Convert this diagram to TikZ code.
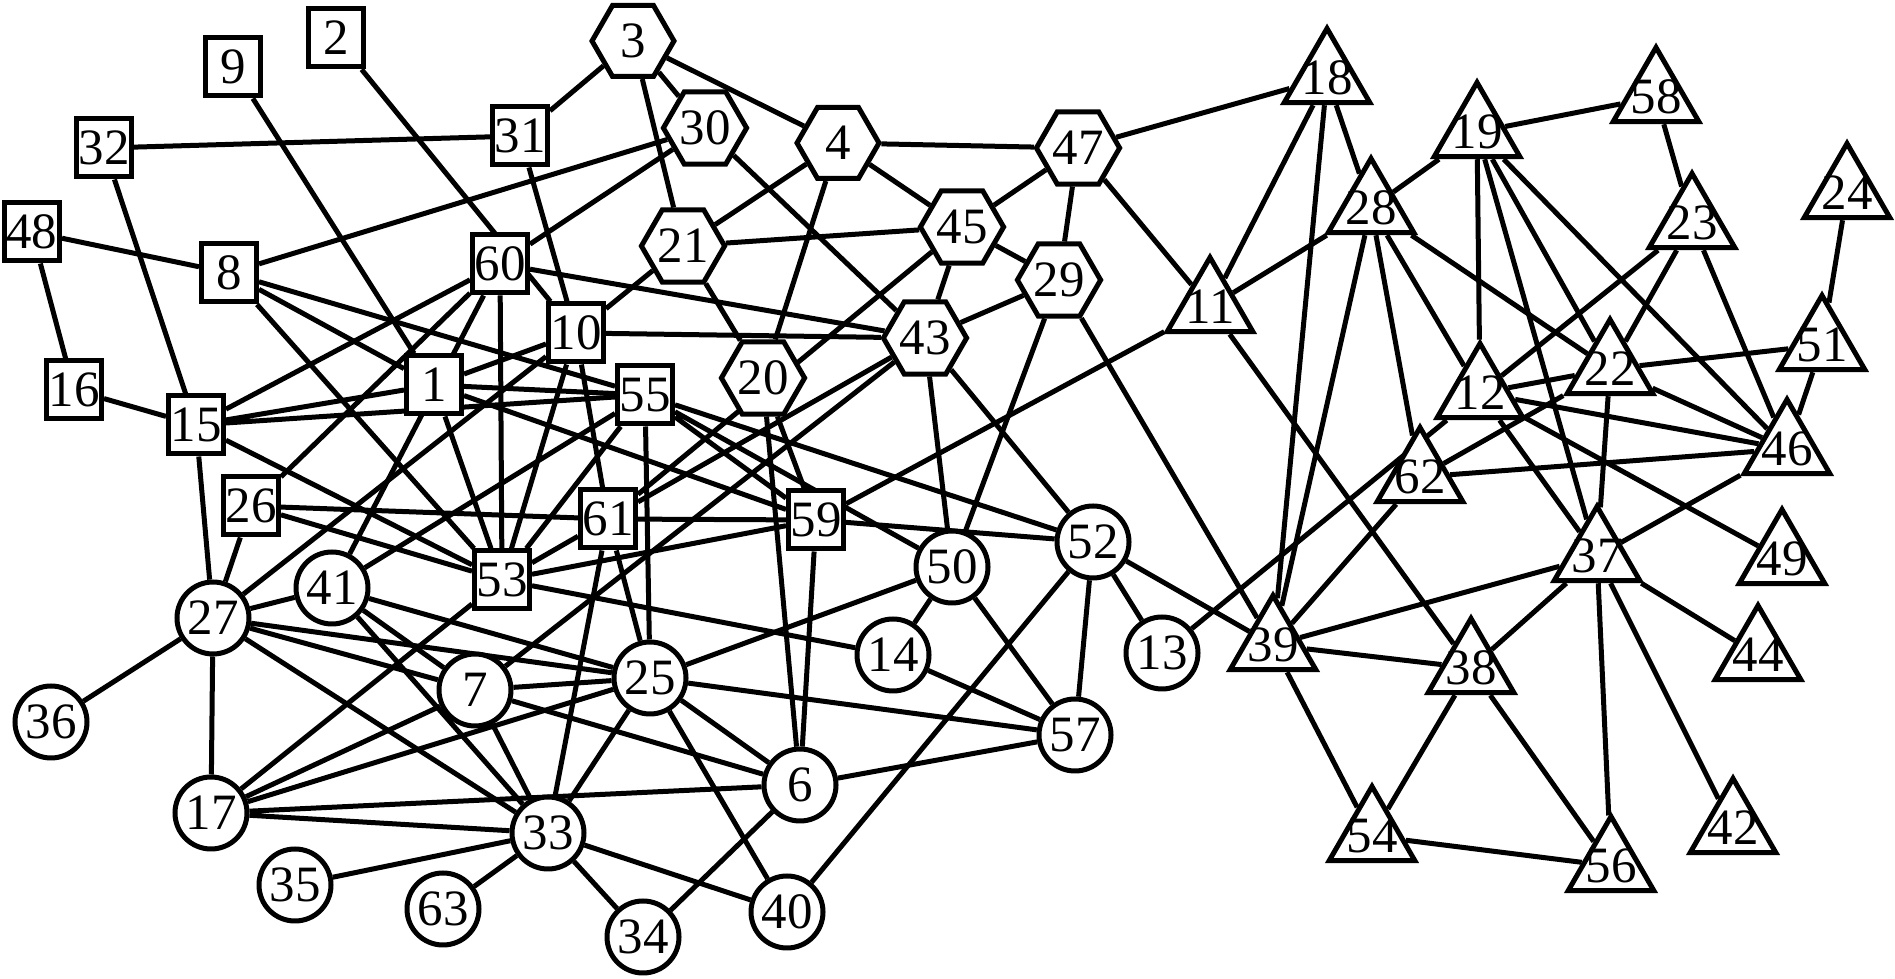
\documentclass[tikz,border=0pt]{standalone}
\usepackage{fontspec}
\setmainfont{Liberation Serif}
\usetikzlibrary{shapes.geometric,backgrounds}

\begin{document}
\begin{tikzpicture}[x = 0.1mm, y = -0.1mm, line width = 0.5mm,
                        font = \fontsize{14.5}{16}\selectfont,
                        every on background layer/.style = {line width = 0.5mm},
                        sq/.style = {rectangle, draw, fill = white, inner sep = 0pt, minimum width = 5.5mm, minimum height = 5.8mm},
                        rnd/.style = {circle, draw, fill = white, inner sep = 0pt, minimum size = 7.2mm},
                        hex/.style = {regular polygon, regular polygon sides = 6, draw, fill = white, inner sep = 0pt, minimum size = 8.2mm},
                        tri/.style = {regular polygon, regular polygon sides = 3, draw, fill = white, inner sep = 0pt, minimum size = 9.9mm, label = {center:#1}}]
      \useasboundingbox (0, 0) rectangle (1895, 979);

      % squares
      \node [sq] (n9) at (233, 67){9};
      \node [sq] (n2) at (336, 38){2};
      \node [sq] (n32) at (104, 148){32};
      \node [sq] (n31) at (520, 136){31};
      \node [sq] (n48) at (32, 232){48};
      \node [sq] (n8) at (229, 273){8};
      \node [sq] (n60) at (500, 264){60};
      \node [sq] (n10) at (576, 333){10};
      \node [sq] (n16) at (74, 390){16};
      \node [sq] (n15) at (196, 425){15};
      \node [sq] (n1) at (434, 385){1};
      \node [sq] (n55) at (645, 395){55};
      \node [sq] (n26) at (251, 506){26};
      \node [sq] (n61) at (608, 519){61};
      \node [sq] (n59) at (816, 520){59};
      \node [sq] (n53) at (502, 580){53};

      % hexagons
      \node [hex] (n3) at (633, 41){3};
      \node [hex] (n30) at (705, 128){30};
      \node [hex] (n4) at (838, 143){4};
      \node [hex] (n47) at (1078, 148){47};
      \node [hex] (n21) at (683, 246){21};
      \node [hex] (n45) at (962, 227){45};
      \node [hex] (n29) at (1059, 280){29};
      \node [hex] (n43) at (925, 338){43};
      \node [hex] (n20) at (763, 378){20};

      % circles
      \node [rnd] (n41) at (332, 588){41};
      \node [rnd] (n27) at (213, 618){27};
      \node [rnd] (n7) at (475, 690){7};
      \node [rnd] (n36) at (51, 722){36};
      \node [rnd] (n17) at (211, 813){17};
      \node [rnd] (n35) at (295, 885){35};
      \node [rnd] (n63) at (443, 909){63};
      \node [rnd] (n25) at (650, 678){25};
      \node [rnd] (n14) at (893, 655){14};
      \node [rnd] (n6) at (800, 785){6};
      \node [rnd] (n33) at (548, 833){33};
      \node [rnd] (n34) at (643, 937){34};
      \node [rnd] (n40) at (787, 912){40};
      \node [rnd] (n57) at (1075, 735){57};
      \node [rnd] (n52) at (1093, 542){52};
      \node [rnd] (n50) at (952, 567){50};
      \node [rnd] (n13) at (1162, 653){13};

      % triangles
      \node [tri = 18] (n18) at (1327, 78){};
      \node [tri = 11] (n11) at (1210, 307){};
      \node [tri = 28] (n28) at (1371, 208){};
      \node [tri = 19] (n19) at (1477, 132){};
      \node [tri = 58] (n58) at (1656, 97){};
      \node [tri = 23] (n23) at (1692, 223){};
      \node [tri = 24] (n24) at (1847, 193){};
      \node [tri = 51] (n51) at (1822, 345){};
      \node [tri = 12] (n12) at (1480, 393){};
      \node [tri = 22] (n22) at (1610, 369){};
      \node [tri = 46] (n46) at (1787, 449){};
      \node [tri = 62] (n62) at (1420, 477){};
      \node [tri = 37] (n37) at (1597, 556){};
      \node [tri = 49] (n49) at (1782, 559){};
      \node [tri = 44] (n44) at (1758, 655){};
      \node [tri = 39] (n39) at (1273, 645){};
      \node [tri = 38] (n38) at (1471, 668){};
      \node [tri = 54] (n54) at (1372, 836){};
      \node [tri = 56] (n56) at (1611, 866){};
      \node [tri = 42] (n42) at (1733, 828){};

      \begin{scope}[on background layer]
      \draw (n3) -- (n31) (n3) -- (n30) (n3) -- (n21) (n3) -- (n4);
      \draw (n31) -- (n32) (n31) -- (n10);
      \draw (n30) -- (n8) (n30) -- (n60) (n30) -- (n43);
      \draw (n4) -- (n47) (n4) -- (n21) (n4) -- (n45) (n4) -- (n20);
      \draw (n21) -- (n45) (n21) -- (n10) (n21) -- (n20);
      \draw (n47) -- (n45) (n47) -- (n29) (n47) -- (n11) (n47) -- (n18);
      \draw (n45) -- (n29) (n45) -- (n43) (n45) -- (n61);
      \draw (n29) -- (n43) (n29) -- (n50) (n29) -- (n39);
      \draw (n43) -- (n60) (n43) -- (n10) (n43) -- (n61) (n43) -- (n7) (n43) -- (n50) (n43) -- (n52);
      \draw (n20) -- (n6) (n20) -- (n59);
      \draw (n2) -- (n10) (n9) -- (n1) (n32) -- (n15);
      \draw (n48) -- (n8) (n48) -- (n16) (n16) -- (n15);
      \draw (n15) -- (n27) (n15) -- (n60) (n15) -- (n1) (n15) -- (n55) (n15) -- (n53);
      \draw (n8) -- (n55) (n8) -- (n1) (n8) -- (n53);
      \draw (n60) -- (n53) (n60) -- (n41) (n60) -- (n26);
      \draw (n10) -- (n61) (n10) -- (n53) (n10) -- (n27) (n10) -- (n1);
      \draw (n1) -- (n53) (n1) -- (n55) (n1) -- (n59);
      \draw (n55) -- (n53) (n55) -- (n25) (n55) -- (n41) (n55) -- (n52) (n55) -- (n50) (n55) -- (n59);
      \draw (n26) -- (n27) (n26) -- (n61) (n26) -- (n53);
      \draw (n61) -- (n59) (n61) -- (n53) (n61) -- (n25) (n61) -- (n33);
      \draw (n59) -- (n53) (n59) -- (n11) (n59) -- (n52) (n59) -- (n6);
      \draw (n53) -- (n14) (n53) -- (n17);
      \draw (n27) -- (n36) (n27) -- (n17) (n27) -- (n41) (n27) -- (n7) (n27) -- (n25) (n27) -- (n33);
      \draw (n41) -- (n7) (n41) -- (n33) (n41) -- (n25);
      \draw (n17) -- (n7) (n17) -- (n25) (n17) -- (n6) (n17) -- (n33);
      \draw (n7) -- (n25) (n7) -- (n6) (n7) -- (n33);
      \draw (n33) -- (n35) (n33) -- (n63) (n33) -- (n34) (n33) -- (n40) (n33) -- (n25);
      \draw (n25) -- (n6) (n25) -- (n40) (n25) -- (n50) (n25) -- (n57);
      \draw (n6) -- (n57) (n6) -- (n34);
      \draw (n14) -- (n50) (n14) -- (n57) (n40) -- (n52) (n50) -- (n57);
      \draw (n52) -- (n13) (n52) -- (n57) (n52) -- (n39) (n13) -- (n12);
      \draw (n18) -- (n11) (n18) -- (n39) (n18) -- (n28);
      \draw (n11) -- (n28) (n11) -- (n38);
      \draw (n28) -- (n39) (n28) -- (n62) (n28) -- (n12) (n28) -- (n22) (n28) -- (n19);
      \draw (n19) -- (n58) (n19) -- (n12) (n19) -- (n37) (n19) -- (n22) (n19) -- (n46);
      \draw (n58) -- (n23) (n23) -- (n12) (n23) -- (n22) (n23) -- (n46);
      \draw (n24) -- (n51) (n51) -- (n46) (n51) -- (n22);
      \draw (n22) -- (n46) (n22) -- (n37) (n22) -- (n12) (n22) -- (n62);
      \draw (n12) -- (n46) (n12) -- (n49) (n12) -- (n37);
      \draw (n62) -- (n46) (n62) -- (n39);
      \draw (n37) -- (n39) (n37) -- (n46) (n37) -- (n38) (n37) -- (n44) (n37) -- (n42) (n37) -- (n56);
      \draw (n38) -- (n39) (n38) -- (n54) (n38) -- (n56) (n39) -- (n54) (n54) -- (n56);
      \end{scope}
\end{tikzpicture}
\end{document}
